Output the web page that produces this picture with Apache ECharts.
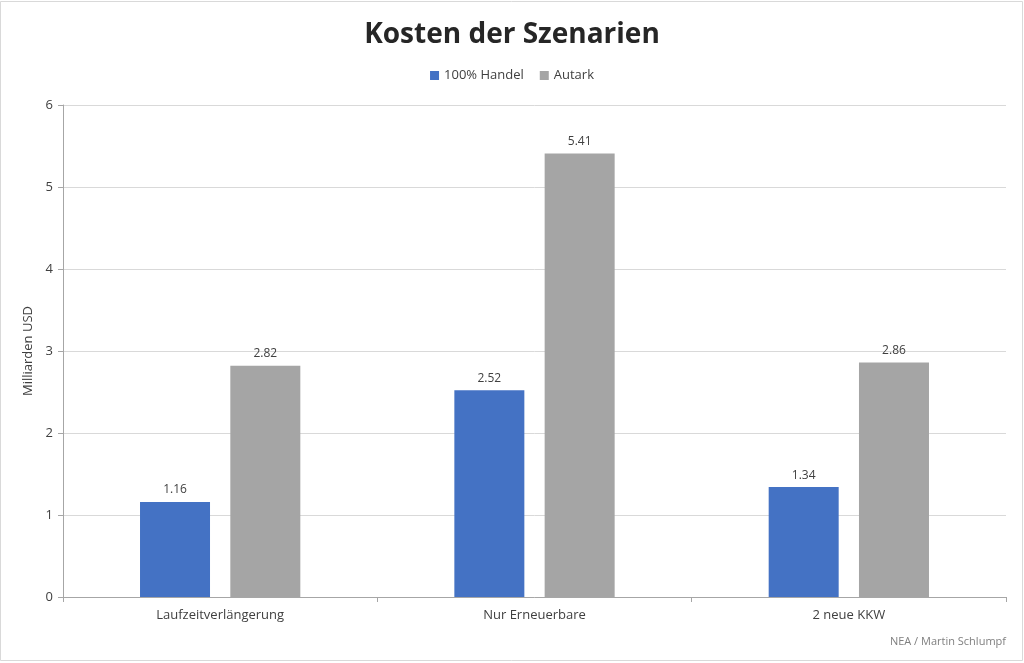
<!DOCTYPE html>
<html>
<head>
<meta charset="utf-8">
<script src="https://cdn.jsdelivr.net/npm/echarts@6/dist/echarts.min.js"></script>
<style>
html,body{margin:0;padding:0;background:#fff;}
#chart{width:1024px;height:663px;}
</style>
</head>
<body>
<div id="chart"></div>
<script>
const categories = ['Laufzeitverlängerung', 'Nur Erneuerbare', '2 neue KKW'];
const handel = [1.16, 2.52, 1.34];
const autark = [2.82, 5.41, 2.86];
const yTicks = [0, 1, 2, 3, 4, 5, 6];

const FONT = '"Open Sans", "Noto Sans", sans-serif';
const chart = echarts.init(document.getElementById('chart'));
chart.setOption({
  animation: false,
  backgroundColor: '#fff',
  textStyle: { fontFamily: FONT },
  title: {
    text: 'Kosten der Szenarien',
    left: 'center',
    top: 16,
    textStyle: { fontSize: 28, fontWeight: 'bold', color: '#262626', fontFamily: FONT }
  },
  legend: {
    top: 64,
    left: 'center',
    itemWidth: 9,
    itemHeight: 9,
    itemGap: 16,
    icon: 'rect',
    textStyle: { fontSize: 13, color: '#404040', fontFamily: FONT },
    data: ['100% Handel', 'Autark']
  },
  grid: { left: 63, right: 18, top: 105, bottom: 66, containLabel: false },
  xAxis: {
    type: 'category',
    data: categories,
    axisLine: { lineStyle: { color: '#a6a6a6', width: 1 } },
    axisTick: { show: true, length: 5, lineStyle: { color: '#a6a6a6' } },
    axisLabel: { fontSize: 13, color: '#404040', margin: 12, fontFamily: FONT }
  },
  yAxis: {
    type: 'value',
    min: yTicks[0],
    max: yTicks[yTicks.length - 1],
    interval: 1,
    name: 'Milliarden USD',
    nameLocation: 'middle',
    nameGap: 28,
    nameRotate: 90,
    nameTextStyle: { fontSize: 13, color: '#404040', fontFamily: FONT },
    axisLine: { show: true, lineStyle: { color: '#a6a6a6', width: 1 } },
    axisTick: { show: true, length: 5, lineStyle: { color: '#a6a6a6' } },
    axisLabel: { fontSize: 13, color: '#404040', margin: 10, fontFamily: FONT },
    splitLine: { lineStyle: { color: '#d9d9d9', width: 1 } }
  },
  series: [
    {
      name: '100% Handel',
      type: 'bar',
      data: handel,
      barWidth: 70,
      barGap: '29%',
      itemStyle: { color: '#4472c4' },
      label: { show: true, position: 'top', distance: 6, fontSize: 12, color: '#404040', formatter: p => p.value.toFixed(2), fontFamily: FONT }
    },
    {
      name: 'Autark',
      type: 'bar',
      data: autark,
      barWidth: 70,
      itemStyle: { color: '#a5a5a5' },
      label: { show: true, position: 'top', distance: 6, fontSize: 12, color: '#404040', formatter: p => p.value.toFixed(2), fontFamily: FONT }
    }
  ],
  graphic: [
    {
      type: 'rect',
      shape: { x: 0.5, y: 1.5, width: 1022, height: 659 },
      style: { fill: 'none', stroke: '#d9d9d9', lineWidth: 1 },
      silent: true
    },
    {
      type: 'text',
      right: 18,
      top: 636,
      style: { text: 'NEA / Martin Schlumpf', fontSize: 11, fill: '#7f7f7f', fontFamily: FONT }
    }
  ]
});
</script>
</body>
</html>
